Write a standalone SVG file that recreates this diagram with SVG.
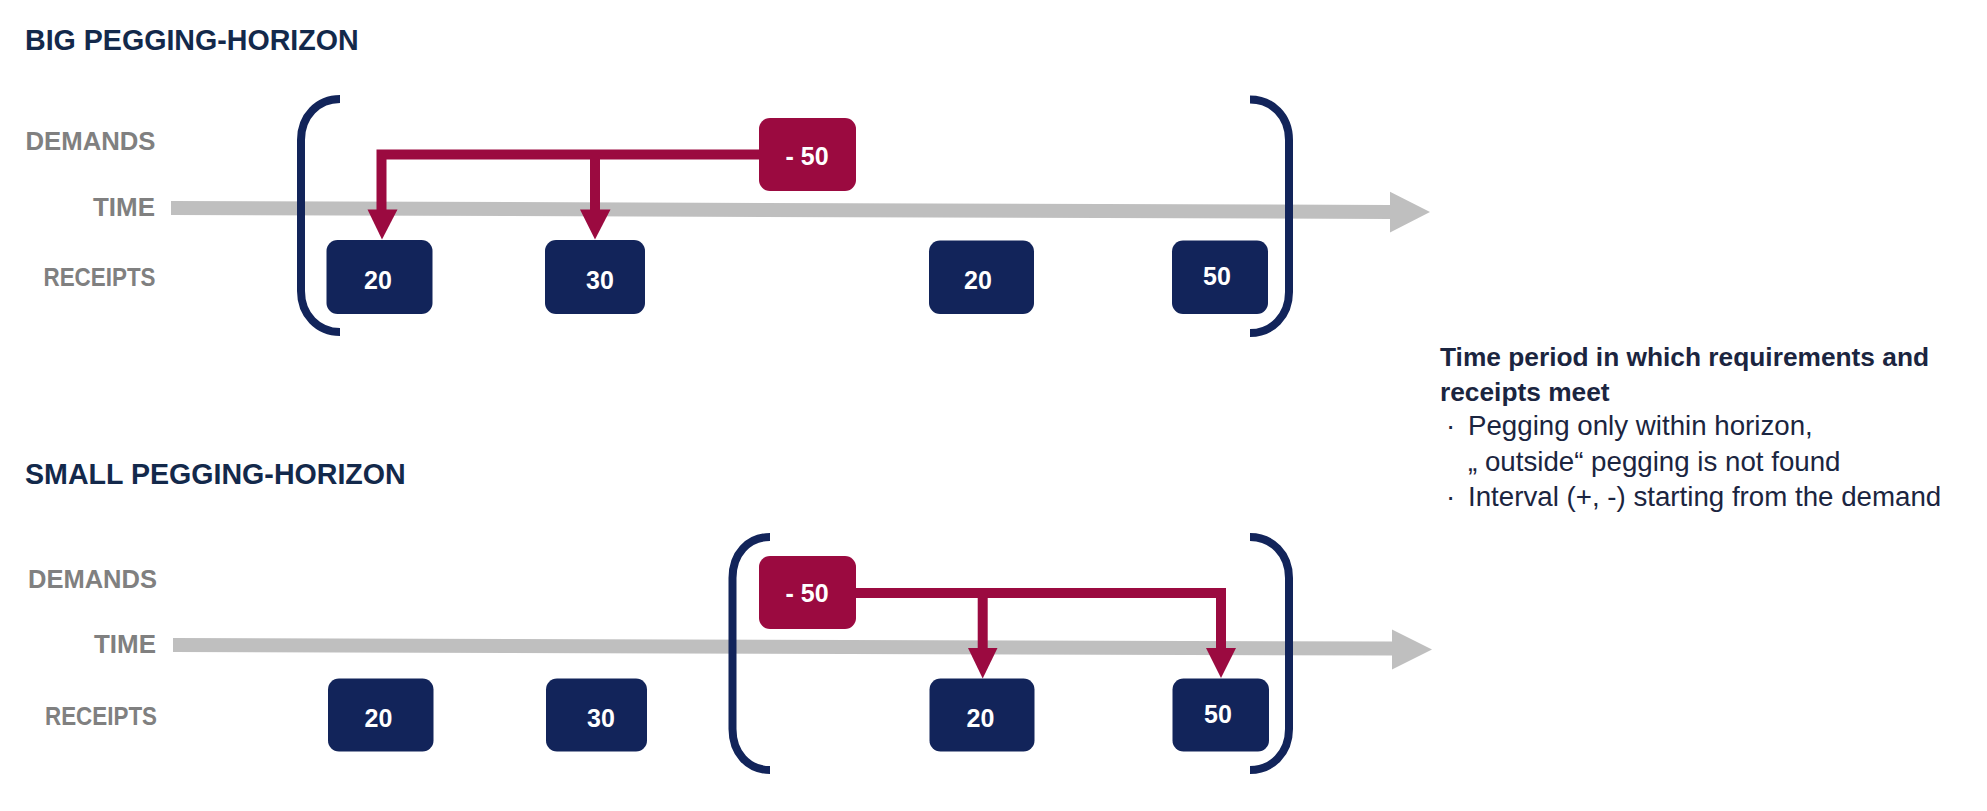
<svg xmlns="http://www.w3.org/2000/svg" width="1987" height="811" viewBox="0 0 1987 811">
<style>
.title{font-family:"Liberation Sans",Arial,sans-serif;font-weight:bold;font-size:28.6px;fill:#13294B}
.lbl{font-family:"Liberation Sans",Arial,sans-serif;font-weight:bold;font-size:25px;fill:#808080;text-anchor:end}
.num{font-family:"Liberation Sans",Arial,sans-serif;font-weight:bold;font-size:25px;fill:#FFFFFF;text-anchor:middle}
.rec{fill:#12245A}
.dem{fill:#9B0A40}
.axis{fill:#BFBFBF}
.brk{fill:none;stroke:#12245A;stroke-width:8}
.con{fill:none;stroke:#9B0A40;stroke-width:10;stroke-linejoin:miter}
.head{fill:#9B0A40}
.nb{font-family:"Liberation Sans",Arial,sans-serif;font-weight:bold;font-size:26.3px;fill:#1B2540}
.nt{font-family:"Liberation Sans",Arial,sans-serif;font-size:27.7px;fill:#1B2540}
</style>
<rect width="1987" height="811" fill="#FFFFFF"/>

<!-- Top section -->
<g id="title-big"><text class="title" x="25" y="50">BIG PEGGING-HORIZON</text></g>
<g id="labels-big">
<text class="lbl" x="155.5" y="150" textLength="130" lengthAdjust="spacingAndGlyphs">DEMANDS</text>
<text class="lbl" x="155" y="216" textLength="62" lengthAdjust="spacingAndGlyphs">TIME</text>
<text class="lbl" x="155.5" y="286" textLength="112" lengthAdjust="spacingAndGlyphs">RECEIPTS</text>
</g>
<g id="axis-big"><polygon class="axis" points="171,201 1390,205 1390,191.7 1430,212 1390,232.5 1390,219 171,215"/></g>
<g id="bracket-big">
<path class="brk" d="M340,99 C318,99 301,116 301,140 V291 C301,315 318,332 340,332"/>
<path class="brk" d="M1250,99.5 C1272,99.5 1289,116 1289,140 V292 C1289,316 1272,333 1250,333"/>
</g>

<!-- Bottom section -->
<g id="title-small"><text class="title" x="25" y="484">SMALL PEGGING-HORIZON</text></g>
<g id="labels-small">
<text class="lbl" x="157" y="588" textLength="129" lengthAdjust="spacingAndGlyphs">DEMANDS</text>
<text class="lbl" x="156" y="653" textLength="62" lengthAdjust="spacingAndGlyphs">TIME</text>
<text class="lbl" x="157" y="725" textLength="112" lengthAdjust="spacingAndGlyphs">RECEIPTS</text>
</g>
<g id="axis-small"><polygon class="axis" points="173,638 1392,641.5 1392,629.5 1432,649.5 1392,669.5 1392,655.5 173,652"/></g>
<g id="bracket-small">
<path class="brk" d="M770,537 C748,537 732.5,554 732.5,578 V729 C732.5,753 748,770 770,770"/>
<path class="brk" d="M1250,537 C1272,537 1289,554 1289,578 V729 C1289,753 1272,770 1250,770"/>
</g>

<!-- Connectors -->
<g id="connectors">
<path class="con" d="M760,154.5 H381.5 V211"/>
<path class="con" d="M595,154.5 V211"/>
<polygon class="head" points="367.5,209.5 397.5,209.5 382,239.5"/>
<polygon class="head" points="580,209.5 610.5,209.5 595,239.5"/>
<path class="con" d="M855,593 H1221 V649"/>
<path class="con" d="M982.7,593 V649"/>
<polygon class="head" points="968,648 997.5,648 982.7,678.5"/>
<polygon class="head" points="1206,648 1236,648 1221,678"/>
</g>

<!-- Nodes top -->
<g id="big-demand"><rect class="dem" x="759" y="118" width="97" height="73" rx="11"/><text class="num" x="807" y="165">- 50</text></g>
<g id="big-receipt-1"><rect class="rec" x="326.5" y="240" width="106" height="74" rx="11"/><text class="num" x="378" y="289">20</text></g>
<g id="big-receipt-2"><rect class="rec" x="545" y="240" width="100" height="74" rx="11"/><text class="num" x="600" y="289">30</text></g>
<g id="big-receipt-3"><rect class="rec" x="929" y="240.5" width="105" height="73.5" rx="11"/><text class="num" x="978" y="289">20</text></g>
<g id="big-receipt-4"><rect class="rec" x="1172" y="240.5" width="96" height="73.5" rx="11"/><text class="num" x="1217" y="285">50</text></g>

<!-- Nodes bottom -->
<g id="small-demand"><rect class="dem" x="759" y="556" width="97" height="73" rx="11"/><text class="num" x="807" y="602">- 50</text></g>
<g id="small-receipt-1"><rect class="rec" x="328" y="678.5" width="105.5" height="73" rx="11"/><text class="num" x="378.5" y="726.5">20</text></g>
<g id="small-receipt-2"><rect class="rec" x="546" y="678.5" width="101" height="73" rx="11"/><text class="num" x="601" y="726.5">30</text></g>
<g id="small-receipt-3"><rect class="rec" x="929.5" y="678.5" width="105" height="73" rx="11"/><text class="num" x="980.5" y="726.5">20</text></g>
<g id="small-receipt-4"><rect class="rec" x="1172.5" y="678.5" width="96.5" height="73" rx="11"/><text class="num" x="1218" y="722.5">50</text></g>

<!-- Note -->
<g id="note">
<text class="nb" x="1440" y="366">Time period in which requirements and</text>
<text class="nb" x="1440" y="401">receipts meet</text>
<text class="nt" x="1446" y="435">·</text>
<text class="nt" x="1468" y="435">Pegging only within horizon,</text>
<text class="nt" x="1468" y="471">„ outside“ pegging is not found</text>
<text class="nt" x="1446" y="506">·</text>
<text class="nt" x="1468" y="506">Interval (+, -) starting from the demand</text>
</g>
</svg>
